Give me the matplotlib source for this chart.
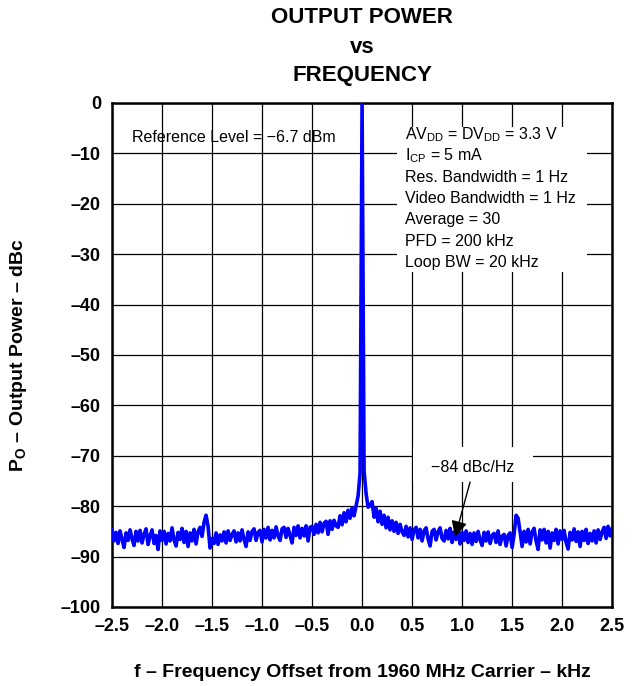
import matplotlib
matplotlib.use('Agg')
import matplotlib.pyplot as plt
import numpy as np
from matplotlib.patches import Rectangle

plt.rcParams['font.family'] = ['Liberation Sans', 'DejaVu Sans']
plt.rcParams['mathtext.fontset'] = 'custom'
plt.rcParams['mathtext.rm'] = 'Liberation Sans'
plt.rcParams['mathtext.bf'] = 'Liberation Sans:bold'

# spectrum trace, dBc, sampled every 0.02 kHz from -2.5 to +2.5 kHz
level = [
    -84.6, -86.9, -85.2, -87.4, -84.9, -86.6, -88.2, -85.3, -86.8, -84.7,
    -86.5, -87.8, -85.0, -86.9, -84.8, -87.3, -85.6, -84.5, -87.6, -85.9,
    -84.7, -87.4, -85.8, -88.6, -84.9, -86.8, -85.0, -87.5, -85.4, -86.9,
    -84.3, -86.7, -87.9, -85.2, -86.6, -84.4, -87.2, -85.0, -88.0, -85.3,
    -86.9, -84.6, -87.5, -85.1, -84.2,
    -86.0, -83.2, -81.8, -84.0, -88.3, -86.4,
    -87.4, -85.3, -87.6, -85.7, -86.9, -85.1, -87.3, -84.9, -86.8, -85.6,
    -84.9, -87.1, -85.3, -86.9, -84.7, -86.6, -88.0, -85.1, -86.8, -85.0,
    -84.5, -86.8, -85.2, -84.8, -87.1, -84.6, -86.3, -84.2, -86.7, -84.8,
    -86.3, -84.1, -85.9, -86.8, -84.5, -84.2, -86.2, -84.4, -85.8, -87.3,
    -84.2, -85.8, -83.9, -86.3, -84.4, -85.9, -83.9, -86.9, -84.2,
    -84.0,
    -85.6, -83.6, -85.3, -83.2, -85.1, -83.4, -83.0, -85.6, -82.9, -84.6,
    -82.8, -83.9, -84.2, -81.9, -83.7, -81.3, -83.1, -80.8,
    -82.4, -80.4, -81.9, -79.9, -78.0, -73.5,
    0.0,
    -73.0, -77.5, -80.2, -79.9, -79.1, -82.2, -80.4, -83.1, -81.0, -83.6,
    -81.8, -84.3, -82.2, -84.7, -82.9, -85.0, -83.2, -85.4, -83.6, -85.1,
    -85.8, -84.0, -86.1, -84.3, -86.6, -84.7, -84.2, -86.3, -84.6, -86.9,
    -84.9, -84.3, -86.5, -87.9, -85.0, -84.6, -86.7, -85.1, -84.3, -86.4,
    -86.9, -84.8, -86.5, -84.4, -87.2, -85.1, -86.6, -84.6, -87.5, -85.2,
    -86.8, -84.9, -87.2, -85.4, -87.6, -85.3, -87.0, -85.0, -86.7, -87.8,
    -85.2, -86.9, -85.1, -87.4, -85.8, -85.4, -87.2, -84.9, -87.6, -86.0,
    -85.6, -87.9, -85.8, -85.3, -88.2,
    -85.6, -81.8, -82.4, -85.1, -88.0,
    -85.0, -87.1, -84.6, -87.5, -85.1, -84.4, -86.9, -88.6, -84.7, -86.7,
    -84.6, -87.3, -85.0, -88.3, -85.3, -86.8, -84.6, -87.5, -84.9, -86.6,
    -84.8, -87.2, -88.5, -85.2, -86.7, -84.5, -87.0, -85.1, -88.0, -85.0,
    -86.8, -84.6, -87.4, -85.4, -86.9, -84.9, -87.3, -84.7, -86.6, -85.1,
    -84.2, -86.4, -84.0, -85.9, -84.5,
]
freq = np.linspace(-2.5, 2.5, len(level))

xticks = [-2.5, -2.0, -1.5, -1.0, -0.5, 0.0, 0.5, 1.0, 1.5, 2.0, 2.5]
yticks = [0, -10, -20, -30, -40, -50, -60, -70, -80, -90, -100]

conditions = [
    r'AV$_{\mathrm{DD}}$ = DV$_{\mathrm{DD}}$ = 3.3 V',
    r'I$_{\mathrm{CP}}$ = 5 mA',
    'Res. Bandwidth = 1 Hz',
    'Video Bandwidth = 1 Hz',
    'Average = 30',
    'PFD = 200 kHz',
    'Loop BW = 20 kHz',
]


def lab(v, fmt):
    s = fmt % abs(v)
    return ('\u2013' + s) if v < 0 else s


fig = plt.figure(figsize=(6.33, 6.86), dpi=100)
ax = fig.add_axes([0.177, 0.1152, 0.790, 0.7347])

ax.plot(freq, level, color='#0000FF', lw=2.6, zorder=3)

ax.set_xlim(-2.5, 2.5)
ax.set_ylim(-100, 0)
ax.set_xticks(xticks)
ax.set_yticks(yticks)
ax.set_xticklabels([lab(v, '%.1f') for v in xticks], fontsize=13, fontweight='bold')
ax.set_yticklabels([lab(v, '%d') for v in yticks], fontsize=13, fontweight='bold')
ax.tick_params(length=0, pad=8)
ax.grid(True, color='black', lw=0.9)
ax.set_axisbelow(True)
for s in ax.spines.values():
    s.set_linewidth(1.8)

# white boxes that hide the grid behind the notes
ax.add_patch(Rectangle((0.35, -33.5), 1.9, 28.7, facecolor='white', edgecolor='none', zorder=2))
ax.add_patch(Rectangle((0.51, -75.2), 1.2, 7.0, facecolor='white', edgecolor='none', zorder=2))

ax.text(-2.3, -6.8, 'Reference Level = \u22126.7 dBm', fontsize=11.5, va='center', zorder=4)
for k, t in enumerate(conditions):
    ax.text(0.43, -6.2 - 4.25 * k, t, fontsize=11.5, va='center', zorder=4)

ax.text(1.11, -72.4, '\u221284 dBc/Hz', fontsize=11.5, ha='center', va='center', zorder=4)
ax.annotate('', xy=(0.93, -86.1), xytext=(1.08, -75.2),
            arrowprops=dict(arrowstyle='-|>', color='black', lw=1.0,
                            mutation_scale=24, shrinkA=0, shrinkB=0), zorder=4)

fig.text(0.572, 0.974, 'OUTPUT POWER', fontsize=16, fontweight='bold', ha='center', va='center')
fig.text(0.572, 0.931, 'vs', fontsize=16, fontweight='bold', ha='center', va='center')
fig.text(0.572, 0.890, 'FREQUENCY', fontsize=16, fontweight='bold', ha='center', va='center')

fig.text(0.572, 0.020, 'f \u2013 Frequency Offset from 1960 MHz Carrier \u2013 kHz',
         fontsize=14, fontweight='bold', ha='center', va='center')
fig.text(0.030, 0.482, 'P$_{\\mathbf{O}}$ \u2013 Output Power \u2013 dBc',
         fontsize=14, fontweight='bold', ha='center', va='center', rotation=90)

fig.savefig('out.png', dpi=100)
